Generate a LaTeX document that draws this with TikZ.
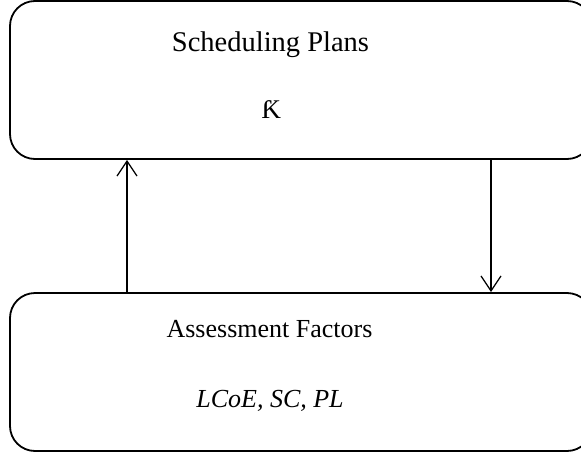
\documentclass[tikz,border=0pt]{standalone}
\usepackage{fontspec}
\setmainfont{Liberation Serif}
\usetikzlibrary{arrows.meta}
\tikzset{
  box/.style={draw=black, line width=1.8pt, rounded corners=25pt, minimum width=582pt, minimum height=158pt, inner sep=0pt},
  lbl/.style={anchor=base, inner sep=0pt, font=\fontsize{26}{30}\selectfont},
  arr/.style={line width=1.3pt, -{Straight Barb[length=15pt,width=20pt,line width=1.3pt]}}
}
\begin{document}
\begin{tikzpicture}[x=1pt,y=-1pt]
\useasboundingbox (0,0) rectangle (581,455);
\clip (0,0) rectangle (581,455);
\node[box] (top) at (301,80) {};
\node[box] (bot) at (301,372) {};
\node[lbl, font=\fontsize{28.5}{32}\selectfont] (t1) at (270.5,51) {Scheduling Plans};
\node[lbl, font=\fontsize{27}{30}\selectfont] (t2) at (271,118) {Ƙ};
\node[lbl] (b1) at (269.5,337) {Assessment Factors};
\node[lbl] (b2) at (270,407) {\itshape LCoE, SC, PL};
\coordinate (la) at (127,0);
\coordinate (ra) at (491,0);
\draw[arr] (la |- bot.north) -- (la |- top.south);
\draw[arr] (ra |- top.south) -- (ra |- bot.north);
\end{tikzpicture}
\end{document}
